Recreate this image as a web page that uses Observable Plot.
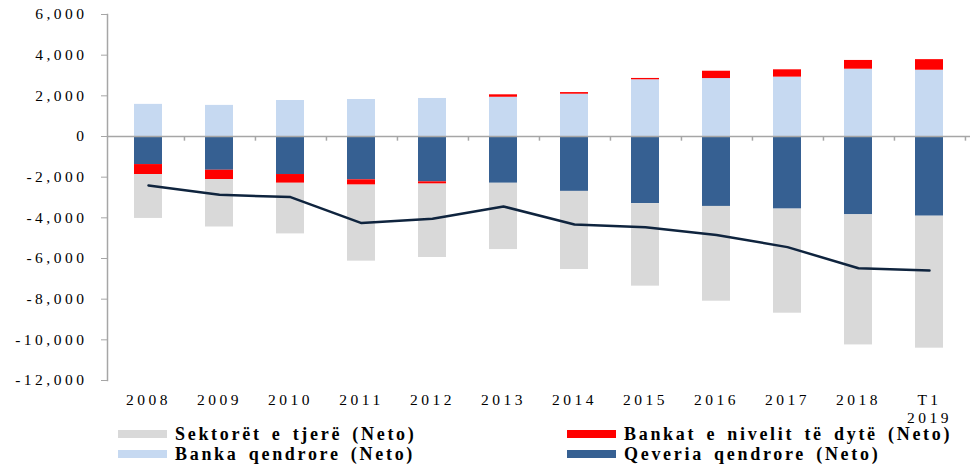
<!DOCTYPE html>
<html>
<head>
<meta charset="utf-8">
<script src="https://cdn.jsdelivr.net/npm/d3@7"></script>
<script src="https://cdn.jsdelivr.net/npm/@observablehq/plot@0.6"></script>
<style>
  html, body { margin: 0; padding: 0; background: #fff; }
  #chart svg { overflow: visible; }
  #chart svg text { letter-spacing: 3.5px; }
  #legend { position: relative; height: 37px; font-family: "Liberation Serif", serif; font-weight: bold; font-size: 18px; line-height: 1; letter-spacing: 2.7px; word-spacing: 3px; color: #000; }
  .item { position: absolute; display: flex; align-items: center; height: 18px; white-space: nowrap; }
  .sw { width: 49px; height: 8px; margin-right: 8px; }
</style>
</head>
<body>
<div id="chart"></div>
<div id="legend"></div>
<script>
const years = ["2008","2009","2010","2011","2012","2013","2014","2015","2016","2017","2018","T1\n2019"];
const seriesNames = ["Qeveria qendrore (Neto)", "Banka qendrore (Neto)", "Bankat e nivelit të dytë (Neto)", "Sektorët e tjerë (Neto)"];
const qeveria  = [-1380, -1660, -1870, -2130, -2230, -2300, -2700, -3300, -3440, -3570, -3850, -3920];
const bankaQ   = [1580, 1530, 1770, 1820, 1870, 1930, 2080, 2790, 2850, 2920, 3310, 3260];
const bankat   = [-490, -460, -430, -260, -110, 120, 80, 65, 360, 360, 430, 520];
const sektoret = [-2160, -2330, -2490, -3740, -3610, -3260, -3840, -4060, -4660, -5120, -6400, -6490];
const total    = [-2410, -2870, -2980, -4260, -4050, -3440, -4330, -4460, -4840, -5440, -6480, -6590];
const yTicks = [-12000, -10000, -8000, -6000, -4000, -2000, 0, 2000, 4000, 6000];
const colors = ["#366092", "#c6d9f1", "#ff0000", "#d9d9d9"];

const seriesValues = [qeveria, bankaQ, bankat, sektoret];
const rows = [];
seriesNames.forEach((s, i) => years.forEach((y, j) => rows.push({year: y, series: s, value: seriesValues[i][j]})));
const lineData = years.map((y, j) => ({year: y, value: total[j]}));

const W = 973, ML = 107, MR = 3;
const step = (W - ML - MR) / years.length;

const chart = Plot.plot({
  width: W,
  height: 430,
  marginLeft: ML,
  marginRight: MR,
  marginTop: 14,
  marginBottom: 50,
  style: {fontFamily: "Liberation Serif, serif", fontSize: "15.5px", color: "#000", background: "#fff"},
  x: {domain: years, paddingInner: 0.61, paddingOuter: 0.305, axis: null, label: null},
  y: {domain: [-12000, 6000], axis: null, label: null},
  color: {domain: seriesNames, range: colors},
  marks: [
    Plot.barY(rows, Plot.stackY({x: "year", y: "value", fill: "series", order: seriesNames})),
    Plot.ruleY([0], {stroke: "#a6a6a6", strokeWidth: 1.5}),
    Plot.ruleX(years, {x: d => d, dx: step / 2, y1: 0, y2: -230, stroke: "#a6a6a6", strokeWidth: 1.5}),
    Plot.frame({anchor: "left", stroke: "#a6a6a6", strokeWidth: 1.5}),
    Plot.line(lineData, {x: "year", y: "value", stroke: "#0f243e", strokeWidth: 2.5}),
    Plot.axisY({ticks: yTicks, tickSize: 6, tickPadding: 14, stroke: "#a6a6a6", fill: "#000", label: null,
      tickFormat: d => d3.format(",")(d).replace("−", "-")}),
    Plot.axisX({tickSize: 0, tickPadding: 12, lineHeight: 1.15, fill: "#000", label: null})
  ]
});
document.getElementById("chart").appendChild(chart);

const legendItems = [
  {name: seriesNames[3], color: colors[3], left: 118, top: -5},
  {name: seriesNames[2], color: colors[2], left: 567, top: -5},
  {name: seriesNames[1], color: colors[1], left: 118, top: 15},
  {name: seriesNames[0], color: colors[0], left: 567, top: 15}
];
const legend = document.getElementById("legend");
legendItems.forEach(it => {
  const d = document.createElement("div");
  d.className = "item";
  d.style.left = it.left + "px";
  d.style.top = it.top + "px";
  const sw = document.createElement("span");
  sw.className = "sw";
  sw.style.background = it.color;
  const t = document.createElement("span");
  t.textContent = it.name;
  d.appendChild(sw);
  d.appendChild(t);
  legend.appendChild(d);
});
</script>
</body>
</html>
